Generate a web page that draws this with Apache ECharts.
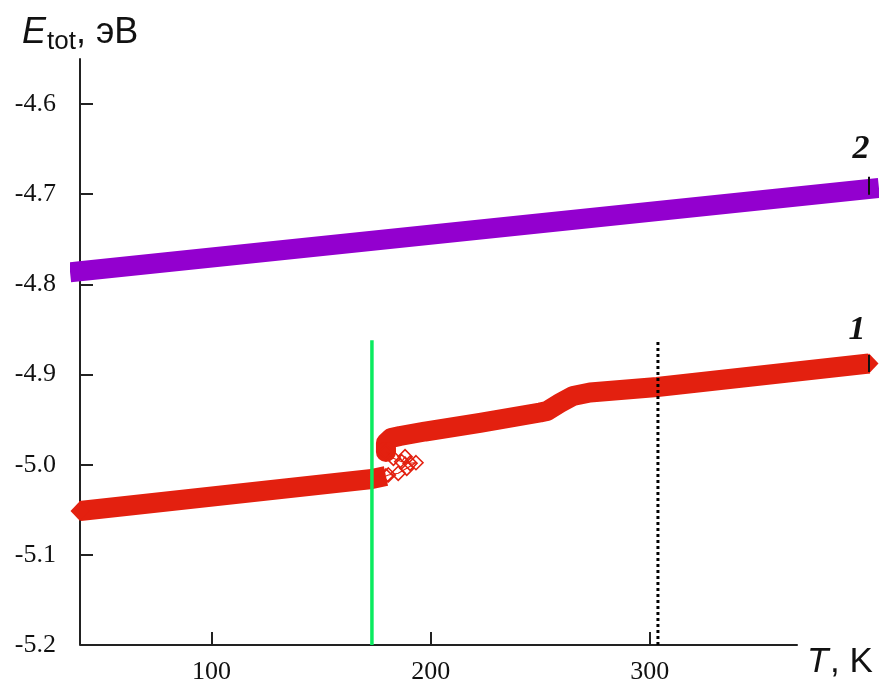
<!DOCTYPE html>
<html>
<head>
<meta charset="utf-8">
<script src="https://cdn.jsdelivr.net/npm/echarts@6/dist/echarts.min.js"></script>
<style>
html,body{margin:0;padding:0;background:#fff;}
#chart{width:885px;height:686px;}
</style>
</head>
<body>
<div id="chart"></div>
<script>
// ---- data ----
const xTicks = [100, 200, 300];
const yTicks = [-5.2, -5.1, -5.0, -4.9, -4.8, -4.7, -4.6];

// curve 2 (purple)
const curve2T = [40, 122, 400];
const curve2E = [-4.7855, -4.7646, -4.6941];

// curve 1 (red), lower branch
const lowerT = [40, 173.2, 179.6];
const lowerE = [-5.0513, -5.0158, -5.0125];

// curve 1, transition points (hollow diamonds)
const hystT = [179.6, 180.7, 185.2, 189.1, 193.3, 190.6, 188.3, 186.8, 183.0, 179.6];
const hystE = [-5.0125, -5.0114, -5.0095, -5.0040, -4.9978, -4.9984, -4.9911, -4.9967, -4.9929, -4.9859];

// curve 1, upper branch
const upperT = [179.6, 179.6, 181.9, 186.0, 197.4, 222.5, 249.9, 253.1, 259.0, 264.9, 272.7, 303.3, 400];
const upperE = [-4.9859, -4.9759, -4.9704, -4.9682, -4.9632, -4.9537, -4.9421, -4.9404, -4.9316, -4.9238, -4.9199, -4.9138, -4.8877];

// vertical marker lines
const greenT = 173.2;
const greenE = [-5.2, -4.862];
const dottedT = 303.7;
const dottedE = [-5.2, -4.864];

// end ticks at T = 400
const endTickT = 400;
const endTick2E = [-4.6807, -4.7007];
const endTick1E = [-4.8782, -4.8971];

// x-axis line extent
const xAxisLineT = [40, 367.5];

const RED = '#e3200f';
const PURPLE = '#9300cf';

const zip = (a, b) => a.map((v, i) => [v, b[i]]);

const chart = echarts.init(document.getElementById('chart'), null, {renderer: 'canvas'});

const option = {
  animation: false,
  grid: {left: 80, right: 16, top: 59, bottom: 41, containLabel: false},
  xAxis: {
    type: 'value', min: 40, max: 400,
    axisLine: {show: false},
    axisTick: {show: true, inside: true, length: 13, customValues: xTicks,
      lineStyle: {color: '#222', width: 2}},
    axisLabel: {customValues: xTicks, fontFamily: 'Liberation Serif', fontSize: 26,
      color: '#111', margin: 14},
    splitLine: {show: false}
  },
  yAxis: {
    type: 'value', min: -5.2, max: -4.55,
    axisLine: {show: true, onZero: false, lineStyle: {color: '#222', width: 2}},
    axisTick: {show: true, inside: true, length: 13, customValues: yTicks.slice(1),
      lineStyle: {color: '#222', width: 2}},
    axisLabel: {customValues: yTicks, fontFamily: 'Liberation Serif', fontSize: 26,
      color: '#111', margin: 24, formatter: v => v.toFixed(1)},
    splitLine: {show: false}
  },
  series: [
    {type: 'line', name: 'xaxis', data: xAxisLineT.map(t => [t, -5.2]), symbol: 'none', clip: false,
      lineStyle: {color: '#222', width: 2}, silent: true, z: 1},
    {type: 'line', name: '2', data: zip(curve2T, curve2E), symbol: 'none', clip: false,
      lineStyle: {color: PURPLE, width: 20, cap: 'square'}, z: 2},
    {type: 'line', name: '1a', data: zip(lowerT, lowerE), symbol: 'none', clip: false,
      lineStyle: {color: RED, width: 20, join: 'round', cap: 'butt'}, z: 2},
    {type: 'line', name: '1b', data: zip(upperT, upperE), symbol: 'none', clip: false,
      lineStyle: {color: RED, width: 20, join: 'round', cap: 'butt'}, z: 2},
    {type: 'scatter', name: 'bend', clip: false,
      data: [[upperT[0], upperE[0]]],
      symbol: 'circle', symbolSize: 20, itemStyle: {color: RED, opacity: 1}, z: 3},
    {type: 'scatter', name: 'tips', clip: false,
      data: [[lowerT[0], lowerE[0]], [upperT[upperT.length - 1], upperE[upperE.length - 1]]],
      symbol: 'diamond', symbolSize: [19, 20], itemStyle: {color: RED, opacity: 1}, z: 3},
    {type: 'line', name: 'hyst', data: zip(hystT, hystE), symbol: 'diamond', symbolSize: 14,
      showSymbol: true, showAllSymbol: true, clip: false,
      lineStyle: {color: RED, width: 1.2},
      itemStyle: {color: 'rgba(255,255,255,0)', borderColor: RED, borderWidth: 1.6}, z: 4},
    {type: 'line', name: 'endtick2', data: endTick2E.map(e => [endTickT, e]), symbol: 'none', clip: false,
      lineStyle: {color: '#111', width: 2}, z: 5},
    {type: 'line', name: 'endtick1', data: endTick1E.map(e => [endTickT, e]), symbol: 'none', clip: false,
      lineStyle: {color: '#111', width: 2}, z: 5},
    {type: 'line', name: 'green', data: greenE.map(e => [greenT, e]), symbol: 'none',
      lineStyle: {color: '#0aeb5f', width: 3.5}, z: 6},
    {type: 'line', name: 'dotted', data: dottedE.map(e => [dottedT, e]), symbol: 'none',
      lineStyle: {color: '#000', width: 3, type: [3, 3]}, z: 6}
  ],
  graphic: [
    {type: 'text', x: 22, y: 33, style: {text: 'E', font: 'italic 36px "Liberation Sans"', fill: '#111',
      textAlign: 'left', textVerticalAlign: 'middle', verticalAlign: 'middle'}},
    {type: 'text', x: 47, y: 42, style: {text: 'tot', font: '26px "Liberation Sans"', fill: '#111',
      textAlign: 'left', textVerticalAlign: 'middle', verticalAlign: 'middle'}},
    {type: 'text', x: 76, y: 33, style: {text: ', эВ', font: '36px "Liberation Sans"', fill: '#111',
      textAlign: 'left', textVerticalAlign: 'middle', verticalAlign: 'middle'}},
    {type: 'text', x: 807, y: 662, style: {text: 'T', font: 'italic 35px "Liberation Sans"', fill: '#111',
      textAlign: 'left', textVerticalAlign: 'middle', verticalAlign: 'middle'}},
    {type: 'text', x: 830, y: 662, style: {text: ', K', font: '35px "Liberation Sans"', fill: '#111',
      textAlign: 'left', textVerticalAlign: 'middle', verticalAlign: 'middle'}},
    {type: 'text', x: 861, y: 149, style: {text: '2', font: 'italic bold 34px "Liberation Serif"', fill: '#111',
      textAlign: 'center', textVerticalAlign: 'middle', verticalAlign: 'middle'}},
    {type: 'text', x: 857, y: 330, style: {text: '1', font: 'italic bold 34px "Liberation Serif"', fill: '#111',
      textAlign: 'center', textVerticalAlign: 'middle', verticalAlign: 'middle'}}
  ]
};
chart.setOption(option);
</script>
</body>
</html>
